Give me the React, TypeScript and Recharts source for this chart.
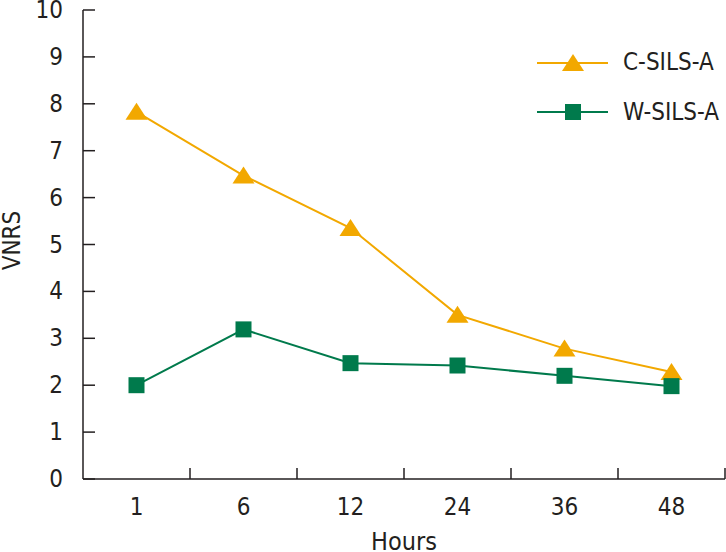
import { LineChart, Line, XAxis, YAxis } from "recharts";

const hours = ["1", "6", "12", "24", "36", "48"];
const cSils = [7.83, 6.47, 5.35, 3.5, 2.78, 2.28];
const wSils = [2.0, 3.19, 2.47, 2.42, 2.2, 1.98];
const yTicks = [0, 1, 2, 3, 4, 5, 6, 7, 8, 9, 10];

const ORANGE = "#F2A800";
const GREEN = "#007A4C";
const FONT = "'Liberation Sans Narrow', 'Arial Narrow', 'DejaVu Sans Condensed', sans-serif";

const data = hours.map((h, i) => ({ hour: h, c: cSils[i], w: wSils[i] }));

const Triangle = ({ cx, cy }: any) => (
  <path d={`M${cx},${cy - 9}L${cx - 11},${cy + 8}L${cx + 11},${cy + 8}Z`} fill={ORANGE} />
);

const Square = ({ cx, cy }: any) => <rect x={cx - 8} y={cy - 8} width={16} height={16} fill={GREEN} />;

const YTick = ({ x, y, payload }: any) => (
  <g>
    <line x1={x + 20} x2={x + 32} y1={y} y2={y} stroke="#231f20" strokeWidth={1.5} />
    <text x={x} y={y + 8} textAnchor="end" fontSize={24} fontFamily={FONT} fill="#231f20">
      {payload.value}
    </text>
  </g>
);

const XTick = ({ x, y, payload }: any) => (
  <g>
    <line x1={x + payload.offset} x2={x + payload.offset} y1={y} y2={y - 11} stroke="#231f20" strokeWidth={1.5} />
    <text x={x} y={y + 36} textAnchor="middle" fontSize={24} fontFamily={FONT} fill="#231f20">
      {payload.value}
    </text>
  </g>
);

const LegendBox = () => (
  <svg width={200} height={80} style={{ position: "absolute", left: 537, top: 53, overflow: "visible" }}>
    <line x1={0} x2={71} y1={10} y2={10} stroke={ORANGE} strokeWidth={2} />
    <Triangle cx={36} cy={10} />
    <text x={86} y={17} fontSize={24} fontFamily={FONT} fill="#231f20">C-SILS-A</text>
    <line x1={0} x2={71} y1={59} y2={59} stroke={GREEN} strokeWidth={2} />
    <Square cx={36} cy={59} />
    <text x={86} y={67} fontSize={24} fontFamily={FONT} fill="#231f20">W-SILS-A</text>
  </svg>
);

export default function App() {
  return (
    <div style={{ position: "absolute", left: 0, top: 0, width: 726, height: 552, background: "#fff" }}>
      <LineChart width={726} height={552} data={data} margin={{ top: 10, right: 1, left: 0, bottom: 0 }}>
        <XAxis
          dataKey="hour"
          scale="band"
          height={73}
          tickSize={0}
          tickMargin={0}
          tickLine={false}
          stroke="#231f20"
          strokeWidth={1.5}
          tick={<XTick />}
          interval={0}
          label={{
            content: ({ viewBox }: any) => (
              <text x={viewBox.x + viewBox.width / 2} y={550} textAnchor="middle" fontSize={25} fontFamily={FONT} fill="#231f20">
                Hours
              </text>
            ),
          }}
        />
        <YAxis
          width={83}
          domain={[0, 10]}
          ticks={yTicks}
          interval={0}
          tickSize={0}
          tickMargin={20}
          tickLine={false}
          stroke="#231f20"
          strokeWidth={1.5}
          tick={<YTick />}
          label={{
            content: ({ viewBox }: any) => (
              <text
                x={20}
                y={viewBox.y + viewBox.height / 2 - 4}
                transform={`rotate(-90, 20, ${viewBox.y + viewBox.height / 2 - 4})`}
                textAnchor="middle"
                fontSize={24}
                fontFamily={FONT}
                fill="#231f20"
              >
                VNRS
              </text>
            ),
          }}
        />
        <Line dataKey="c" stroke={ORANGE} strokeWidth={2} dot={<Triangle />} activeDot={false} isAnimationActive={false} />
        <Line dataKey="w" stroke={GREEN} strokeWidth={2} dot={<Square />} activeDot={false} isAnimationActive={false} />
      </LineChart>
      <LegendBox />
    </div>
  );
}
